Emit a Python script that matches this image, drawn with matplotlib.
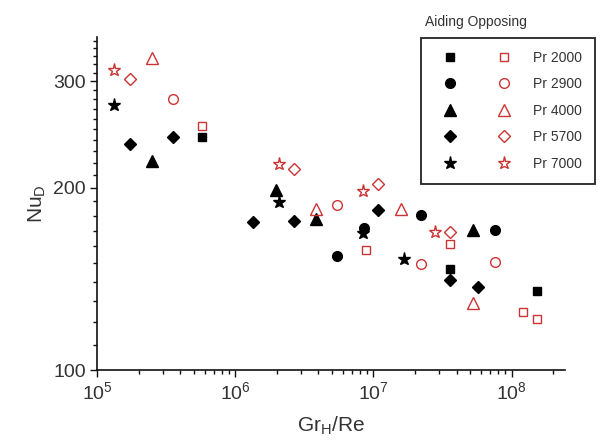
import math
import matplotlib
matplotlib.use("Agg")
import matplotlib.pyplot as plt
from matplotlib.ticker import FixedLocator, NullFormatter, LogLocator, FuncFormatter
from matplotlib.legend_handler import HandlerTuple

plt.rcParams['font.family'] = ['Liberation Sans', 'DejaVu Sans']
plt.rcParams['mathtext.fontset'] = 'custom'
plt.rcParams['mathtext.rm'] = 'Liberation Sans'

# ---- data (Gr_H/Re, Nu_D) ----
labels = ["Pr 2000", "Pr 2900", "Pr 4000", "Pr 5700", "Pr 7000"]
markers = ["s", "o", "^", "D", "*"]

# Aiding (filled black)
a2000_x = [5.71e5, 3.6e7, 1.53e8]
a2000_y = [242.7, 147.1, 135.0]
a2900_x = [5.46e6, 8.61e6, 2.21e7, 7.53e7]
a2900_y = [154.2, 171.5, 180.3, 170.2]
a4000_x = [2.48e5, 1.98e6, 3.87e6, 5.26e7]
a4000_y = [221.5, 198.2, 177.5, 170.2]
a5700_x = [1.72e5, 3.56e5, 1.34e6, 2.64e6, 1.08e7, 3.6e7, 5.7e7]
a5700_y = [236.6, 242.7, 175.5, 176.4, 183.7, 141.0, 137.1]
a7000_x = [1.32e5, 2.07e6, 8.4e6, 1.65e7]
a7000_y = [273.7, 189.6, 168.3, 152.5]

# Opposing (open red)
o2000_x = [5.71e5, 8.81e6, 3.6e7, 1.20e8, 1.53e8]
o2000_y = [253.3, 157.8, 161.3, 124.5, 121.5]
o2900_x = [3.56e5, 5.46e6, 2.21e7, 7.53e7]
o2900_y = [280.4, 187.4, 149.6, 150.9]
o4000_x = [2.48e5, 3.87e6, 1.57e7, 5.26e7]
o4000_y = [327.6, 184.4, 184.4, 129.2]
o5700_x = [1.72e5, 2.64e6, 1.08e7, 3.6e7]
o5700_y = [302.2, 214.6, 203.2, 169.1]
o7000_x = [1.32e5, 2.07e6, 8.4e6, 2.79e7]
o7000_y = [312.6, 218.8, 197.4, 169.1]

aiding = [(a2000_x, a2000_y), (a2900_x, a2900_y), (a4000_x, a4000_y),
          (a5700_x, a5700_y), (a7000_x, a7000_y)]
opposing = [(o2000_x, o2000_y), (o2900_x, o2900_y), (o4000_x, o4000_y),
            (o5700_x, o5700_y), (o7000_x, o7000_y)]

y_major = [100, 200, 300]
y_minor = [v for v in range(110, 360, 10) if v not in y_major]

RED = "#cc3333"
sizes = {"s": 5.5, "o": 7, "^": 8, "D": 6, "*": 9.5}

fig = plt.figure(figsize=(6.02, 4.40), dpi=100)
ax = fig.add_axes([97/602, 1-370/440, (565-97)/602, (370-37)/440])

handles = []
for m, (ax_x, ax_y), (ox, oy) in zip(markers, aiding, opposing):
    h1, = ax.plot(ax_x, ax_y, linestyle="none", marker=m, ms=sizes[m],
                  color="black", mec="black")
    h2, = ax.plot(ox, oy, linestyle="none", marker=m, ms=sizes[m],
                  mfc="none", mec=RED, mew=1.0)
    handles.append((h1, h2))

ax.set_xscale("log")
ax.set_yscale("log")
ax.set_xlim(1e5, 2.43e8)
ax.set_ylim(100, 355)

ax.yaxis.set_major_locator(FixedLocator(y_major))
ax.yaxis.set_minor_locator(FixedLocator(y_minor))
ax.yaxis.set_major_formatter(FuncFormatter(lambda v, p: f"{int(round(v))}"))
ax.yaxis.set_minor_formatter(NullFormatter())
ax.xaxis.set_major_locator(LogLocator(base=10, numticks=10))
ax.xaxis.set_minor_locator(LogLocator(base=10, subs=range(2, 10), numticks=20))
ax.xaxis.set_minor_formatter(NullFormatter())
ax.xaxis.set_major_formatter(FuncFormatter(
    lambda v, p: r"$\mathregular{10^{%d}}$" % round(math.log10(v))))

for s in ["top", "right"]:
    ax.spines[s].set_visible(False)
for s in ["left", "bottom"]:
    ax.spines[s].set_linewidth(1.2)
    ax.spines[s].set_color("#111111")

ax.tick_params(which="major", length=5, width=1, direction="out",
               labelsize=14, labelcolor="#333333", color="#111111", pad=3)
ax.tick_params(which="minor", length=3, width=1, direction="out", color="#111111")

ax.set_xlabel(r"Gr$_\mathregular{H}$/Re", fontsize=15, color="#333333", labelpad=8)
ax.set_ylabel(r"Nu$_\mathregular{D}$", fontsize=15, color="#333333", labelpad=4)

leg = ax.legend(handles, labels,
                handler_map={tuple: HandlerTuple(ndivide=None, pad=1.58)},
                loc="upper left", bbox_to_anchor=(421/602, 1-37.7/440),
                bbox_transform=fig.transFigure, borderaxespad=0,
                fontsize=10, handlelength=6.19, handletextpad=0.94,
                borderpad=0.93, labelspacing=0.9, fancybox=False,
                frameon=True, edgecolor="#222222", framealpha=1)
leg.get_frame().set_linewidth(1.3)
for t in leg.get_texts():
    t.set_color("#333333")
fig.text(425/602, 1-21.7/440, "Aiding Opposing", fontsize=10, color="#333333",
         ha="left", va="center")

fig.savefig("out.png", dpi=100)
